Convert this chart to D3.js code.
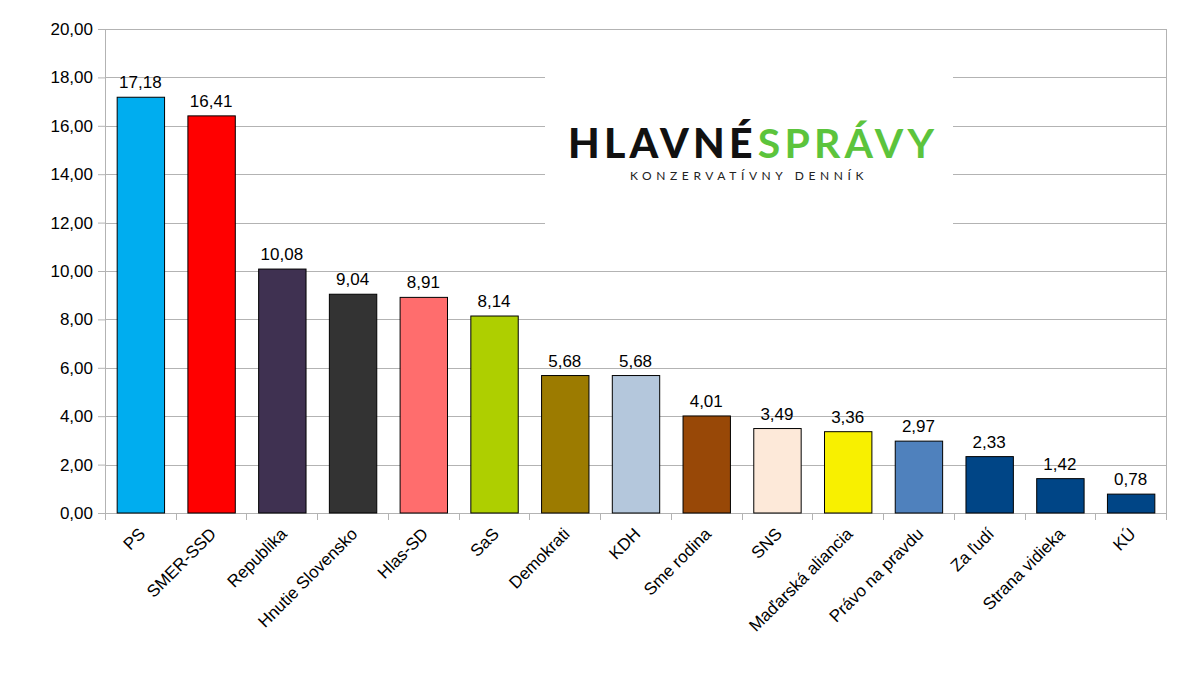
<!DOCTYPE html>
<html>
<head>
<meta charset="utf-8">
<script src="https://cdn.jsdelivr.net/npm/d3@7"></script>
<style>
  body { margin: 0; background: #fff; }
  svg text { font-family: "Liberation Sans", Arial, sans-serif; }
</style>
</head>
<body>
<div id="chart"></div>
<script>
// Chart data
const parties = ['PS', 'SMER-SSD', 'Republika', 'Hnutie Slovensko', 'Hlas-SD', 'SaS', 'Demokrati', 'KDH',
  'Sme rodina', 'SNS', 'Maďarská aliancia', 'Právo na pravdu', 'Za ľudí', 'Strana vidieka', 'KÚ'];
const results = [17.18, 16.41, 10.08, 9.04, 8.91, 8.14, 5.68, 5.68, 4.01, 3.49, 3.36, 2.97, 2.33, 1.42, 0.78];
const partyColors = ['#00adef', '#ff0000', '#3f3151', '#333333', '#ff6d6d', '#aecf00', '#9c7b00', '#b4c7dc',
  '#984807', '#fde9d9', '#f8f000', '#4f81bd', '#004586', '#004586', '#004586'];
const yTicks = [0, 2, 4, 6, 8, 10, 12, 14, 16, 18, 20];

const W = 1183, H = 700;
const margin = { top: 29, right: 17, bottom: 187, left: 105 };
const width = W - margin.left - margin.right;
const height = H - margin.top - margin.bottom;

const fmt = v => d3.format('.2f')(v).replace('.', ',');

const svg = d3.select('#chart').append('svg')
  .attr('width', W)
  .attr('height', H);

const g = svg.append('g')
  .attr('transform', `translate(${margin.left},${margin.top})`);

const x = d3.scaleBand()
  .domain(parties)
  .range([0, width])
  .paddingInner(0.33)
  .paddingOuter(0.165);

const y = d3.scaleLinear()
  .domain([0, 20])
  .range([height, 0]);

// gridlines
g.append('g')
  .selectAll('line')
  .data(yTicks)
  .enter()
  .append('line')
  .attr('x1', 0)
  .attr('x2', width)
  .attr('y1', d => Math.round(y(d)) + 0.5)
  .attr('y2', d => Math.round(y(d)) + 0.5)
  .attr('stroke', '#b3b3b3');

// right border
g.append('line')
  .attr('x1', width + 0.5).attr('x2', width + 0.5)
  .attr('y1', 0).attr('y2', height)
  .attr('stroke', '#b3b3b3');

// logo box
const logo = g.append('g')
  .attr('transform', `translate(${545 - margin.left},${60 - margin.top})`);
logo.append('rect')
  .attr('width', 408)
  .attr('height', 177)
  .attr('fill', '#fff');
logo.append('text')
  .attr('x', 23)
  .attr('y', 98)
  .style('font-family', 'Lato, "Open Sans", sans-serif')
  .style('font-size', '41px')
  .style('letter-spacing', '4.2px')
  .selectAll('tspan')
  .data([['HLAVNÉ', '#111111', 900], ['SPRÁVY', '#5cc43c', 700]])
  .enter()
  .append('tspan')
  .attr('fill', d => d[1])
  .attr('dx', (d, i) => i ? 1 : 0)
  .style('font-weight', d => d[2])
  .text(d => d[0]);
logo.append('text')
  .attr('x', 204)
  .attr('y', 120)
  .attr('text-anchor', 'middle')
  .attr('fill', '#222')
  .style('font-family', 'Lato, "Open Sans", sans-serif')
  .style('font-size', '12px')
  .style('letter-spacing', '4.6px')
  .text('KONZERVATÍVNY DENNÍK');

// y axis
const yAxis = g.append('g')
  .call(d3.axisLeft(y).tickValues(yTicks).tickFormat(fmt).tickSize(7).tickPadding(5));
yAxis.select('.domain').attr('stroke', '#b3b3b3');
yAxis.selectAll('.tick line').attr('stroke', '#b3b3b3');
yAxis.selectAll('.tick text')
  .attr('fill', '#000')
  .style('font-size', '17px')
  .style('font-family', '"Liberation Sans", Arial, sans-serif');

// x axis ticks at band boundaries
const step = x.step();
const xAxis = g.append('g')
  .attr('transform', `translate(0,${height})`);
xAxis.append('line')
  .attr('x1', 0).attr('x2', width)
  .attr('y1', 0.5).attr('y2', 0.5)
  .attr('stroke', '#b3b3b3');
xAxis.selectAll('line.tk')
  .data(d3.range(parties.length + 1))
  .enter()
  .append('line')
  .attr('class', 'tk')
  .attr('x1', i => Math.round(i * step) + 0.5)
  .attr('x2', i => Math.round(i * step) + 0.5)
  .attr('y1', 0)
  .attr('y2', 7)
  .attr('stroke', '#b3b3b3');
xAxis.selectAll('text')
  .data(parties)
  .enter()
  .append('text')
  .attr('text-anchor', 'end')
  .attr('transform', d => `translate(${x(d) + x.bandwidth() / 2 + 6},${22}) rotate(-45)`)
  .style('font-size', '17px')
  .attr('fill', '#000')
  .text(d => d);

// bars
g.selectAll('.bar')
  .data(parties)
  .enter()
  .append('rect')
  .attr('class', 'bar')
  .attr('x', d => x(d) + 0.5)
  .attr('y', (d, i) => y(results[i]))
  .attr('width', x.bandwidth())
  .attr('height', (d, i) => height - y(results[i]))
  .attr('fill', (d, i) => partyColors[i])
  .attr('stroke', '#000')
  .attr('stroke-width', 1);

// value labels
g.selectAll('.val')
  .data(parties)
  .enter()
  .append('text')
  .attr('class', 'val')
  .attr('text-anchor', 'middle')
  .attr('x', d => x(d) + x.bandwidth() / 2)
  .attr('y', (d, i) => y(results[i]) - 9)
  .style('font-size', '17px')
  .attr('fill', '#000')
  .text((d, i) => fmt(results[i]));
</script>
</body>
</html>
